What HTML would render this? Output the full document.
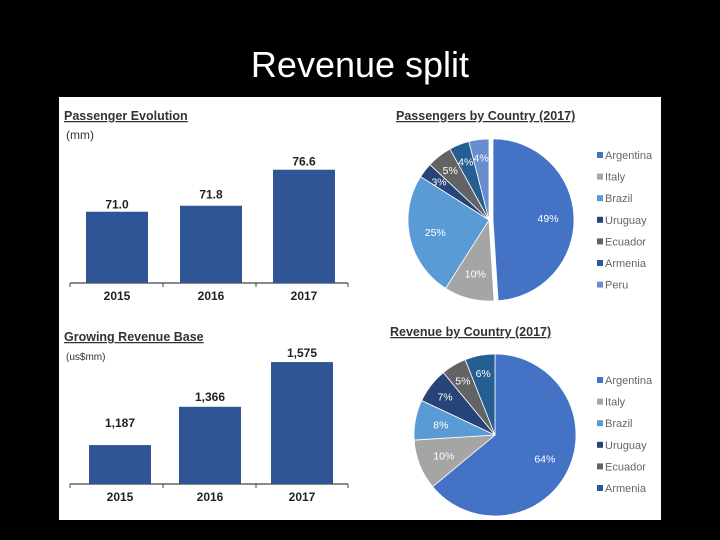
<!DOCTYPE html>
<html><head><meta charset="utf-8"><style>
body{margin:0;background:#000;width:720px;height:540px;overflow:hidden;font-family:"Liberation Sans",sans-serif}
#title{position:absolute;left:0;width:720px;top:44px;text-align:center;color:#fff;font-size:36px;font-family:"Liberation Sans",sans-serif}
svg{position:absolute;left:0;top:0}
</style></head><body>
<div id="title">Revenue split</div>
<svg id="c" width="720" height="540"></svg>
<script>
const years=["2015","2016","2017"];
const passengers=[71.0,71.8,76.6];
const passengerLabels=["71.0","71.8","76.6"];
const revenue=[1187,1366,1575];
const revenueLabels=["1,187","1,366","1,575"];
const paxCountries=["Argentina","Italy","Brazil","Uruguay","Ecuador","Armenia","Peru"];
const paxShares=[49,10,25,3,5,4,4];
const revCountries=["Argentina","Italy","Brazil","Uruguay","Ecuador","Armenia"];
const revShares=[64,10,8,7,5,6];
const colors={Argentina:"#4472c4",Italy:"#a5a5a5",Brazil:"#5b9bd5",Uruguay:"#264478",Ecuador:"#636363",Armenia:"#255e91",Peru:"#698ed0"};
const NS="http://www.w3.org/2000/svg";
const svg=document.getElementById('c');
function mk(t,a,p){const e=document.createElementNS(NS,t);for(const k in a)e.setAttribute(k,a[k]);(p||svg).appendChild(e);return e;}
function txt(s,a){const e=mk('text',a);e.textContent=s;return e;}
const panel=mk('rect',{x:59,y:97,width:602,height:423,fill:'#fff'});



function barChart(vals,labels,opt){
  const g=mk('g',{});
  
  
  const t=txt(opt.title,{x:64,y:opt.titleY,'font-size':12.5,'font-weight':'bold',fill:'#333','text-decoration':'underline'});
  
  
  const u=txt(opt.unit,{x:66,y:opt.titleY+19,'font-size':opt.unitSize,fill:'#333'});
  
  
  const ax=mk('line',{x1:70,x2:348,y1:opt.base,y2:opt.base,stroke:'#444','stroke-width':1.3});
  
  
  [70,163,256,348].forEach(x=>mk('line',{x1:x,x2:x,y1:opt.base,y2:opt.base+4,stroke:'#444'}));
  const y=v=>opt.base-(v-opt.v0)/opt.per;
  vals.forEach((v,i)=>{
    const cx=opt.cx[i];
    const r=mk('rect',{x:cx-31,y:y(v),width:62,height:opt.base-y(v),fill:'#2f5597'});
    
    
    const l=txt(labels[i],{x:cx,y:y(v)-opt.lblGap[i],'text-anchor':'middle','font-size':12,'font-weight':'bold',fill:'#222'});
    
    
    const yl=txt(years[i],{x:cx,y:opt.base+17,'text-anchor':'middle','font-size':12,'font-weight':'bold',fill:'#222'});
    
    
  });
}
barChart(passengers,passengerLabels,{name:'passenger-evolution',title:'Passenger Evolution',unit:'(mm)',unitSize:12,titleY:120,base:283,v0:61.5,per:0.1333,cx:[117,211,304],lblGap:[3,7,4]});
barChart(revenue,revenueLabels,{name:'revenue-base',title:'Growing Revenue Base',unit:'(us$mm)',unitSize:10,titleY:341,base:484,v0:1005,per:4.675,cx:[120,210,302],lblGap:[18,6,5]});

function pie(names,shares,opt){
  const g=mk('g',{});
  
  
  const t=txt(opt.title,{x:opt.tx,y:opt.ty,'font-size':12.5,'font-weight':'bold',fill:'#333','text-decoration':'underline'});
  
  
  const tot=shares.reduce((a,b)=>a+b,0);
  let a0=0;
  shares.forEach((s,i)=>{
    const a1=a0+s/tot*2*Math.PI;
    const ex=i===0?opt.explode:0, mid=(a0+a1)/2;
    const cx=opt.cx+ex*Math.sin(mid), cy=opt.cy-ex*Math.cos(mid), r=opt.r;
    const p=(a)=>[cx+r*Math.sin(a),cy-r*Math.cos(a)];
    const [x0,y0]=p(a0),[x1,y1]=p(a1);
    const path=mk('path',{d:`M${cx},${cy}L${x0},${y0}A${r},${r} 0 ${a1-a0>Math.PI?1:0} 1 ${x1},${y1}Z`,fill:colors[names[i]],stroke:'#fff','stroke-width':0.8});
    
    
    const lr=s<8?r*0.78:r*0.68;
    const l=txt(s+'%',{x:cx+lr*Math.sin(mid),y:cy-lr*Math.cos(mid)+4,'text-anchor':'middle','font-size':10.5,fill:'#fff'});
    
    
    a0=a1;
  });
  names.forEach((n,i)=>{
    const yy=opt.ly+i*21.6;
    const sq=mk('rect',{x:597,y:yy-7,width:6,height:6,fill:colors[n]});
    
    
    const lt=txt(n,{x:605,y:yy,'font-size':11,fill:'#666'});
    
    
  });
}
pie(paxCountries,paxShares,{name:'passengers-by-country',title:'Passengers by Country (2017)',tx:396,ty:120,cx:489,cy:220,r:81,explode:4,ly:159});
pie(revCountries,revShares,{name:'revenue-by-country',title:'Revenue by Country (2017)',tx:390,ty:336,cx:495,cy:435,r:81,explode:0,ly:384});
</script>
</body></html>
